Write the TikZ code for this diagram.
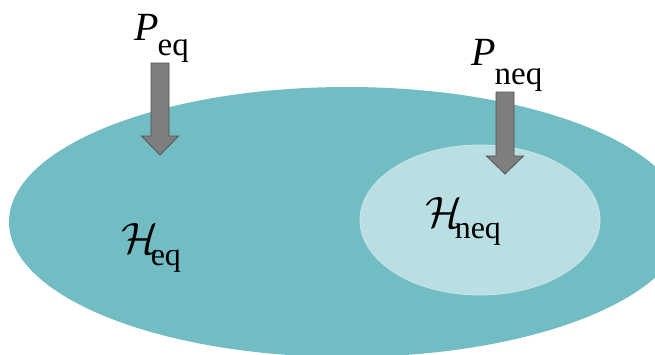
\documentclass[tikz,border=0pt]{standalone}
\usepackage{fix-cm}
\usepackage{fontspec}
\setmainfont{Liberation Serif}
\begin{document}
\begin{tikzpicture}[x=1pt,y=-1pt,
  bigset/.style={fill=outerteal,draw=none},
  smallset/.style={fill=innerteal,draw=innerrim,line width=0.8pt},
  blockarrow/.style={fill=arrowgray,draw=arrowrim,line width=0.8pt,line join=miter},
  lbl/.style={inner sep=0pt,anchor=base west}]
\definecolor{outerteal}{HTML}{72BDC4}
\definecolor{innerteal}{HTML}{B9DFE3}
\definecolor{innerrim}{HTML}{C9E6E9}
\definecolor{arrowgray}{HTML}{7F7F7F}
\definecolor{arrowrim}{HTML}{505050}
\useasboundingbox (0,0) rectangle (655,354);
\clip (0,0) rectangle (655,354);
\fill[white] (0,0) rectangle (655,354);
% sets
\path[bigset] (347,222) ellipse [x radius=338, y radius=135];
\path[smallset] (480,220) ellipse [x radius=120, y radius=75];
% arrows
\coordinate (tipeq) at (160,155);
\coordinate (tipneq) at (505,174);
\draw[blockarrow] (tipeq) -- ++(-18.5,-19) -- ++(9.5,0) -- ++(0,-73) -- ++(18,0) -- ++(0,73) -- ++(9.5,0) -- cycle;
\draw[blockarrow] (tipneq) -- ++(-18.5,-18) -- ++(9.5,0) -- ++(0,-64) -- ++(18,0) -- ++(0,64) -- ++(9.5,0) -- cycle;
% labels
\node[lbl] (peq) at (134,40) {\fontsize{40}{40}\selectfont\textit{P}\kern-1pt\raisebox{-15pt}{\fontsize{33}{33}\selectfont eq}};
\node[lbl] (pneq) at (471,65) {\fontsize{40}{40}\selectfont\textit{P}\kern-1pt\raisebox{-19pt}{\fontsize{33}{33}\selectfont neq}};
\node[lbl] (heq) at (121,253) {\fontsize{44}{44}\selectfont$\mathcal{H}$\kern-8pt\raisebox{-12pt}{\fontsize{32}{32}\selectfont eq}};
\node[lbl] (hneq) at (425,227) {\fontsize{44}{44}\selectfont$\mathcal{H}$\kern-8pt\raisebox{-11pt}{\fontsize{32}{32}\selectfont neq}};
\end{tikzpicture}
\end{document}
